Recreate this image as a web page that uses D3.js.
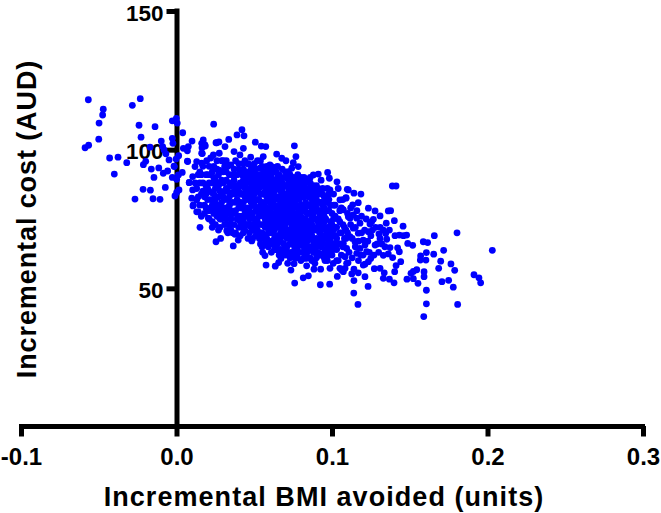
<!DOCTYPE html>
<html>
<head>
<meta charset="utf-8">
<script src="https://cdnjs.cloudflare.com/ajax/libs/d3/7.8.5/d3.min.js"></script>
<style>
  body { margin: 0; background: #fff; }
  text { font-family: "Liberation Sans", Arial, sans-serif; font-weight: bold; fill: #000; }
</style>
</head>
<body>
<svg id="chart" width="661" height="513"></svg>
<script>
// axis ticks
var xTicks = [-0.1, 0, 0.1, 0.2, 0.3];
var xLabels = ["-0.1", "0.0", "0.1", "0.2", "0.3"];
var yTicks = [50, 100, 150];

// points: [BMI avoided, cost]
var leftTail = [
  [-0.0567,118],[-0.0233,118.4],[-0.0284,116],[-0.0471,114.6],[-0.0475,112.5],[-0.0498,109.6],[-0.0241,108.8],[-0.0138,108.3],
  [-0.05,103.8],[-0.0228,104.5],[-0.0565,101.6],[-0.0588,100.7],[-0.043,97],[-0.0376,97.3],[-0.032,95.3],[-0.04,91.2],
  [-0.0198,95.8],[-0.0213,94.6],[-0.0162,93],[-0.0114,93.4],[-0.0145,90],[-0.0215,85.7],[-0.0168,85.4],[-0.0267,82.2],
  [-0.0151,82.3],[-0.0106,82.1],[-0.0072,86.4],[-0.017,100.9],[-0.0098,103.1],[-0.0089,101.1],[-0.008,99.9],[-0.0068,98.5],
  [-0.0048,96.3],[-0.0016,94.1],[-0.0027,110.4],[-0.0001,111.3],[0.0005,109.6],[0.004,106.1],[-0.0027,104.1],[-0.0023,102.3],
  [0.0044,100.5],[0.0076,101.1],[0.007,99.6],[0.01,103.1],[0.0172,103.5],[0.0185,101.3],[0.0164,100.7],[0.0166,98.6],
  [0.0239,109.2],[0.0254,102.5],[0.007,95.9],[0.0014,97.8],[-0.0003,96.6],[-0.0014,93.9],[0.0037,91.8],[0.0012,90.9],
  [-0.0027,90],[0.0001,89.3],[-0.0085,91.5],[-0.0057,92.3],[0.0082,88.2],[0.0016,85.5],[-0.001,83.3],[0.0001,84.6],
  [0.013,77.6],[0.0106,79.7],[0.0098,82.5],[0.013,81.9],[0.0104,85.5],[0.0119,93.9],[0.013,95.7],[0.0104,90.3],
  [0.0072,95.7],[0.0082,88.1],[0.0151,72]
];

var upperEdge = [
  [0.0421,107.2],[0.0389,105.3],[0.0434,105],[0.0336,103.7],[0.0259,102.5],[0.0273,102.8],[0.0312,101.1],[0.0507,102.7],
  [0.0545,101.3],[0.0574,101.1],[0.0758,101.4],[0.043,100.5],[0.037,99.3],[0.0644,98.4],[0.0768,97.5],[0.0237,98.1],
  [0.0275,98.7],[0.0408,98.1],[0.0477,97.3],[0.0558,97.5],[0.0677,96.9],[0.0704,96],[0.0751,95.3],[0.0783,93.9],
  [0.0462,94.8],[0.0601,94.5],[0.064,93.7],[0.0301,96],[0.0194,96],[0.0162,95.1],[0.0494,92.3],[0.0537,93.3],
  [0.0972,91.8],[0.0912,91.2],[0.088,90.9],[0.0983,89.7],[0.1032,88.4],[0.0987,85.5],[0.1098,85.7],[0.109,82.7],
  [0.1051,81.9],[0.1069,78.5],[0.0719,92.1],[0.0741,93.3],[0.0183,101.7],[0.0162,98.7],[0.0162,102.3]
];

var lowerEdge = [
  [0.0254,66.8],[0.0284,68],[0.0365,65.3],[0.0397,67.4],[0.0376,69.5],[0.0323,70.8],[0.0484,67.1],[0.0533,68],
  [0.0205,75.3],[0.014,77.6],[0.0108,80.1],[0.0554,63],[0.0569,61.8],[0.0576,58.4],[0.0655,63.6],[0.0608,66.2],
  [0.0672,60.8],[0.0657,59.3],[0.0635,58],[0.0715,59],[0.0756,58.9],[0.0736,56.6],[0.0837,58.1],[0.0884,56.9],
  [0.0927,56.9],[0.0815,53.8],[0.0848,54.5],[0.076,51.9],[0.0925,51.3],[0.0985,51.5],[0.1034,54.3],[0.0987,57.2],
  [0.1094,59],[0.1073,56],[0.0831,60.8],[0.0859,61],[0.0902,62.6],[0.0955,60],[0.0762,64.1],[0.0698,64.1],
  [0.0826,64.4],[0.1051,57.2],[0.1008,59]
];

var rightTail = [
  [0.1388,86.9],[0.1412,86.9],[0.1105,85.5],[0.1141,84.3],[0.1186,84],[0.109,82.5],[0.1169,80.9],[0.1133,80.1],
  [0.1234,78.9],[0.1277,77.9],[0.1309,76.1],[0.1362,77.9],[0.1377,78],[0.1266,74.9],[0.1401,74.4],[0.1349,73.5],
  [0.1244,73.2],[0.1457,72.4],[0.1804,70],[0.1658,69],[0.1369,71],[0.1405,69],[0.1433,69.2],[0.1459,69],[0.148,69.2],
  [0.1302,69.6],[0.1345,69.8],[0.1352,67.7],[0.1277,65.6],[0.1309,68],[0.1487,66.2],[0.1519,65.5],[0.1587,66.8],
  [0.1615,66.5],[0.1718,63.7],[0.2031,63.7],[0.1607,62.9],[0.1654,62.3],[0.1422,64.6],[0.1433,63.2],[0.1373,64.7],
  [0.133,61.9],[0.1362,62.4],[0.139,61.1],[0.157,61.7],[0.1568,60.2],[0.1604,60.2],[0.1442,59.6],[0.1699,59.8],
  [0.1765,58.8],[0.1412,58.2],[0.1686,57.2],[0.1789,56.5],[0.1545,56.7],[0.1523,56.1],[0.1508,55.4],[0.1592,56],
  [0.1592,54.2],[0.1403,56],[0.1913,54.9],[0.1945,53.8],[0.1956,52],[0.1482,53.3],[0.1523,53.5],[0.1553,51.8],
  [0.1707,52.4],[0.175,52.9],[0.178,50.4],[0.1399,52],[0.1369,53.3],[0.133,53.6],[0.1336,55.6],[0.1309,57.2],
  [0.1272,57.1],[0.1201,58.4],[0.1212,58.7],[0.1249,60.8],[0.1234,59.6],[0.1232,50.7],[0.1607,49.3],[0.1212,54.2],
  [0.1141,52.8],[0.1169,55.6],[0.1127,55.2],[0.1141,56.9],[0.1103,59.2],[0.114,48.3],[0.1167,44.2],[0.1607,44.4],
  [0.1808,44.2],[0.159,39.8],[0.1159,75.3],[0.1116,75.3],[0.118,73.5],[0.1137,71.7],[0.1169,69.9],[0.1116,68.6],
  [0.1148,66.8],[0.1201,67.4],[0.118,64.4],[0.1212,65.6],[0.1159,62.6],[0.1223,63.2],[0.1185,62],[0.1094,64.4],
  [0.1073,66.2],[0.1084,61.4],[0.1062,56.6],[0.1084,57.2],[0.1234,70.4],[0.1255,74],[0.1137,76.5],[0.1105,75.8],
  [0.1073,78.3]
];

var core = [
  [0.015,92],[0.017,88],[0.016,84],[0.018,80],[0.016,76],[0.019,91],[0.021,94],[0.02,86],[0.022,82],[0.021,78],
  [0.023,74],[0.024,90],[0.025,86],[0.026,93],[0.024,80],[0.026,76],[0.028,72],[0.027,83],[0.029,89],[0.03,92],
  [0.031,85],[0.03,79],[0.032,75],[0.033,94],[0.034,88],[0.033,82],[0.035,78],[0.034,73],[0.036,70],[0.036,91],
  [0.037,85],[0.038,96],[0.038,81],[0.039,75],[0.04,72],[0.04,93],[0.041,88],[0.041,84],[0.042,79],[0.043,70],
  [0.043,95],[0.044,90],[0.044,86],[0.045,82],[0.045,76],[0.046,73],[0.046,68],[0.047,92],[0.048,88],[0.048,84],
  [0.049,80],[0.049,77],[0.05,71],[0.05,95],[0.051,90],[0.051,86],[0.052,82],[0.052,74],[0.053,79],[0.053,69],
  [0.054,96],[0.054,91],[0.055,87],[0.055,84],[0.056,80],[0.056,76],[0.057,72],[0.057,66],[0.058,94],[0.058,89],
  [0.059,85],[0.059,82],[0.06,78],[0.06,74],[0.061,70],[0.061,91],[0.062,87],[0.062,83],[0.063,80],[0.063,76],
  [0.064,72],[0.064,67],[0.065,90],[0.065,86],[0.066,82],[0.066,78],[0.067,74],[0.067,70],[0.068,93],[0.068,88],
  [0.069,84],[0.069,80],[0.07,76],[0.07,72],[0.071,68],[0.071,90],[0.072,86],[0.072,82],[0.073,78],[0.073,74],
  [0.074,70],[0.074,66],[0.075,62],[0.075,88],[0.076,84],[0.076,80],[0.077,76],[0.077,72],[0.078,68],[0.078,91],
  [0.079,86],[0.079,82],[0.08,78],[0.08,74],[0.081,70],[0.081,66],[0.082,61],[0.082,90],[0.083,85],[0.083,81],
  [0.084,77],[0.084,73],[0.085,69],[0.085,65],[0.086,88],[0.086,83],[0.087,79],[0.087,75],[0.088,71],[0.088,67],
  [0.089,63],[0.089,59],[0.09,87],[0.09,82],[0.091,78],[0.091,74],[0.092,70],[0.092,66],[0.093,62],[0.093,89],
  [0.094,84],[0.094,80],[0.095,76],[0.095,72],[0.096,68],[0.096,64],[0.097,86],[0.097,60],[0.098,82],[0.098,78],
  [0.099,74],[0.099,70],[0.1,66],[0.1,62],[0.101,84],[0.101,80],[0.102,76],[0.102,72],[0.103,68],[0.103,64],
  [0.104,60],[0.104,86],[0.105,78],[0.105,74],[0.106,70],[0.106,62],[0.107,82],[0.108,72],[0.108,68],[0.11,70],
  [0.019,84],[0.023,88],[0.028,78],[0.032,89],[0.037,77],[0.042,91],[0.047,79],[0.052,88],[0.057,78],[0.062,73],
  [0.067,85],[0.072,77],[0.077,88],[0.082,75],[0.087,71],[0.092,81],[0.097,72],[0.102,66],[0.058,68],[0.063,64],
  [0.068,72],[0.073,66],[0.078,63],[0.083,69],[0.088,75],[0.093,68],[0.098,65],[0.048,72],[0.043,76],[0.038,87],
  [0.033,70],[0.055,73],[0.06,83],[0.065,79],[0.07,87],[0.075,82],[0.08,86],[0.085,80],[0.09,72],[0.095,81]
];

// dense middle of the cloud, where dots overlap and can only be estimated
var denseMiddle = [
  [0.022,91],[0.023,84.5],[0.024,77],[0.025,89],[0.025,82],[0.026,96],[0.027,87],[0.027,79],[0.028,92.5],[0.028,75],
  [0.029,84],[0.029,81],[0.03,88],[0.03,76],[0.031,94],[0.031,82],[0.031,73],[0.032,92],[0.032,86],[0.032,79],
  [0.033,85],[0.033,77],[0.034,91],[0.034,83],[0.034,80],[0.035,94.5],[0.035,87],[0.035,75],[0.035,71],[0.036,84],
  [0.036,81],[0.036,77],[0.037,89],[0.037,93],[0.037,73],[0.038,84],[0.038,78],[0.038,70],[0.039,91],[0.039,87],
  [0.039,82],[0.04,95],[0.04,85],[0.04,79],[0.04,76],[0.041,92],[0.041,81],[0.041,74],[0.041,69],[0.042,87],
  [0.042,84],[0.042,76],[0.042,72],[0.043,93],[0.043,89],[0.043,81],[0.043,74],[0.044,96],[0.044,83],[0.044,78],
  [0.044,71],[0.045,92],[0.045,88],[0.045,85],[0.045,79],[0.045,73],[0.046,95],[0.046,90],[0.046,83],[0.046,77],
  [0.047,86],[0.047,82],[0.047,75],[0.047,70],[0.048,93],[0.048,90],[0.048,81],[0.048,77],[0.049,94],[0.049,86],
  [0.049,83],[0.049,73],[0.049,68],[0.05,91],[0.05,88],[0.05,84],[0.05,80],[0.05,75],[0.051,93],[0.051,82],
  [0.051,78],[0.051,72],[0.051,69],[0.052,96],[0.052,91],[0.052,85],[0.052,79],[0.052,71],[0.053,90],[0.053,86],
  [0.053,82],[0.053,76],[0.053,73],[0.054,88],[0.054,84],[0.054,80],[0.054,77],[0.054,70],[0.054,66],[0.055,94],
  [0.055,90],[0.055,81],[0.055,78],[0.055,70],[0.055,65],[0.056,92],[0.056,87],[0.056,84],[0.056,73],[0.056,68],
  [0.057,89],[0.057,85],[0.057,81],[0.057,75],[0.057,69],[0.058,91],[0.058,86],[0.058,83],[0.058,79],[0.058,76],
  [0.058,72],[0.059,93],[0.059,88],[0.059,78],[0.059,74],[0.059,70],[0.059,65],[0.06,90],[0.06,86],[0.06,81],
  [0.06,76],[0.06,71],[0.06,67],[0.061,94],[0.061,88],[0.061,84],[0.061,79],[0.061,73],[0.061,63],[0.062,92],
  [0.062,85],[0.062,80],[0.062,77],[0.062,70],[0.062,66],[0.063,89],[0.063,85],[0.063,82],[0.063,74],[0.063,71],
  [0.063,68],[0.064,92],[0.064,87],[0.064,83],[0.064,79],[0.064,75],[0.064,64],[0.065,94],[0.065,88],[0.065,83],
  [0.065,77],[0.065,73],[0.065,69],[0.065,66],[0.066,91],[0.066,86],[0.066,80],[0.066,75],[0.066,72],[0.066,62],
  [0.067,89],[0.067,83],[0.067,80],[0.067,77],[0.067,67],[0.067,64],[0.068,85],[0.068,81],[0.068,78],[0.068,75],
  [0.068,69],[0.068,62],[0.069,90],[0.069,87],[0.069,82],[0.069,77],[0.069,73],[0.069,70],[0.069,66],[0.07,92],
  [0.07,84],[0.07,79],[0.07,74],[0.07,69],[0.07,62],[0.071,87],[0.071,83],[0.071,80],[0.071,75],[0.071,71],
  [0.071,65],[0.072,89],[0.072,84],[0.072,79],[0.072,74],[0.072,69],[0.072,63],[0.073,91],[0.073,86],[0.073,81],
  [0.073,76],[0.073,71],[0.073,68],[0.073,61],[0.074,88],[0.074,84],[0.074,80],[0.074,77],[0.074,73],[0.074,63],
  [0.075,90],[0.075,85],[0.075,79],[0.075,75],[0.075,71],[0.075,67],[0.076,87],[0.076,82],[0.076,77],[0.076,73],
  [0.076,69],[0.076,65],[0.076,61],[0.077,90],[0.077,85],[0.077,80],[0.077,74],[0.077,70],[0.077,66],[0.078,87],
  [0.078,83],[0.078,79],[0.078,75],[0.078,71],[0.078,65],[0.078,61],[0.079,89],[0.079,84],[0.079,78],[0.079,73],
  [0.079,69],[0.079,63],[0.08,90],[0.08,83],[0.08,80],[0.08,76],[0.08,71],[0.08,67],[0.08,60],[0.081,88],
  [0.081,85],[0.081,79],[0.081,75],[0.081,73],[0.081,63],[0.082,87],[0.082,83],[0.082,78],[0.082,71],[0.082,68],
  [0.082,65],[0.083,88],[0.083,79],[0.083,75],[0.083,72],[0.083,66],[0.083,62],[0.084,89],[0.084,84],[0.084,80],
  [0.084,70],[0.084,67],[0.084,63],[0.085,86],[0.085,83],[0.085,77],[0.085,74],[0.085,71],[0.085,61],[0.086,90],
  [0.086,80],[0.086,77],[0.086,72],[0.086,68],[0.086,64],[0.087,85],[0.087,82],[0.087,73],[0.087,69],[0.087,65],
  [0.087,60],[0.088,87],[0.088,83],[0.088,79],[0.088,77],[0.088,63],[0.089,85],[0.089,81],[0.089,75],[0.089,71],
  [0.089,67],[0.09,84],[0.09,79],[0.09,75],[0.09,68],[0.09,65],[0.09,61],[0.091,86],[0.091,81],[0.091,71],
  [0.091,67],[0.091,63],[0.092,84],[0.092,77],[0.092,73],[0.092,62],[0.093,81],[0.093,78],[0.093,75],[0.093,71],
  [0.093,65],[0.094,86],[0.094,77],[0.094,69],[0.094,66],[0.095,83],[0.095,79],[0.095,74],[0.095,63],[0.096,81],
  [0.096,75],[0.096,71],[0.097,78],[0.097,69],[0.097,66],[0.098,84],[0.098,72],[0.098,62],[0.099,80],[0.099,67],
  [0.1,77],[0.1,73],[0.1,69],[0.101,75],[0.101,64],[0.102,80],[0.102,69],[0.103,72],[0.104,66],[0.105,70]
];

// the shoulders either side of the dense middle
var leftShoulder = [
  [0.012,88],[0.013,86],[0.014,91],[0.014,83],[0.015,88],[0.015,80],[0.016,91],[0.017,94],[0.017,85],[0.018,83],
  [0.018,77],[0.019,87],[0.019,79],[0.02,91],[0.02,82],[0.021,88],[0.021,85],[0.021,75],[0.022,97],[0.022,79],
  [0.023,92],[0.023,80],[0.023,72],[0.024,84],[0.024,94],[0.025,78],[0.025,73],[0.026,87],[0.026,80],[0.027,91],
  [0.027,76],[0.027,71],[0.028,85],[0.028,88],[0.029,96],[0.029,75],[0.03,83],[0.031,77],[0.032,96],[0.033,73]
];

var rightShoulder = [
  [0.104,75],[0.106,79],[0.107,73],[0.107,65],[0.109,71],[0.109,68],[0.11,77],[0.111,63],[0.112,73],[0.112,79],
  [0.113,68],[0.113,61],[0.115,72],[0.115,65],[0.116,78],[0.117,60],[0.117,67],[0.119,70],[0.119,76],[0.12,62],
  [0.121,71],[0.122,75],[0.123,67],[0.124,63],[0.125,69],[0.126,71],[0.127,62],[0.128,72],[0.129,66],[0.13,63],
  [0.131,72],[0.132,66],[0.133,71],[0.134,65],[0.105,66],[0.103,60],[0.101,71],[0.099,63],[0.097,63],[0.095,61]
];

var allPoints = leftTail.concat(upperEdge, lowerEdge, rightTail, core, denseMiddle, leftShoulder, rightShoulder);

var svg = d3.select("#chart");

// scales fitted to the tick positions in the picture
var x = d3.scaleLinear().domain([-0.1, 0.3]).range([21, 643]);
var y = d3.scaleLinear().domain([0, 150]).range([427, 11]);

// x axis
var xAxis = d3.axisBottom(x)
  .tickValues(xTicks)
  .tickFormat(function(d, i) { return xLabels[i]; })
  .tickSize(10.5)
  .tickSizeOuter(0)
  .tickPadding(11);

var gx = svg.append("g")
  .attr("transform", "translate(0,426)")
  .call(xAxis);

// y axis
var yAxis = d3.axisLeft(y)
  .tickValues(yTicks)
  .tickSize(10)
  .tickSizeOuter(0)
  .tickPadding(3);

var gy = svg.append("g")
  .attr("transform", "translate(" + x(0) + ",0)")
  .call(yAxis);

// thick lines like the original
svg.selectAll(".domain, .tick line")
  .attr("stroke", "#000")
  .attr("stroke-width", 5);
gx.select(".domain").attr("d", "M19,0.5H645");
gy.select(".domain").attr("d", "M0.5,8.5V429");

gx.selectAll(".tick text").style("font-size", "24px");
gy.selectAll(".tick text")
  .style("font-size", "22.5px")
  .attr("dy", "9px");

// the points, on top of the axes
svg.append("g")
  .selectAll("circle")
  .data(allPoints)
  .enter().append("circle")
    .attr("cx", function(d) { return x(d[0]); })
    .attr("cy", function(d) { return y(d[1]); })
    .attr("r", 3.4)
    .attr("fill", "#0000ff");

// axis titles
svg.append("text")
  .attr("x", 324)
  .attr("y", 506)
  .attr("text-anchor", "middle")
  .style("font-size", "27px")
  .style("letter-spacing", "1.05px")
  .text("Incremental BMI avoided (units)");

svg.append("text")
  .attr("transform", "translate(36,219) rotate(-90)")
  .attr("text-anchor", "middle")
  .style("font-size", "27px")
  .style("letter-spacing", "0.9px")
  .text("Incremental cost (AUD)");
</script>
</body>
</html>
